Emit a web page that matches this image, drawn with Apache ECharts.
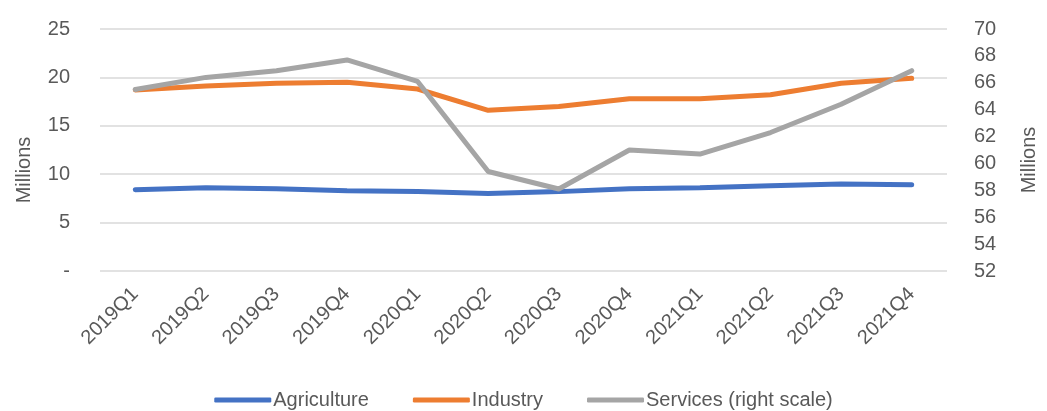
<!DOCTYPE html>
<html>
<head>
<meta charset="utf-8">
<script src="https://cdn.jsdelivr.net/npm/echarts@6/dist/echarts.min.js"></script>
<style>
  html, body { margin: 0; padding: 0; background: #fff; }
  #chart { width: 1047px; height: 411px; }
</style>
</head>
<body>
<div id="chart"></div>
<script>
var quarters = ['2019Q1', '2019Q2', '2019Q3', '2019Q4', '2020Q1', '2020Q2', '2020Q3', '2020Q4', '2021Q1', '2021Q2', '2021Q3', '2021Q4'];
var agriculture = [8.4, 8.6, 8.5, 8.3, 8.2, 8.0, 8.2, 8.5, 8.6, 8.8, 9.0, 8.9];
var industry = [18.7, 19.1, 19.4, 19.5, 18.8, 16.6, 17.0, 17.8, 17.8, 18.2, 19.4, 19.9];
var services = [65.5, 66.4, 66.9, 67.7, 66.1, 59.4, 58.1, 61.0, 60.7, 62.3, 64.4, 66.9];

var textColor = '#595959';
var font = 'Liberation Sans';

var chart = echarts.init(document.getElementById('chart'));
chart.setOption({
  animation: false,
  textStyle: { fontFamily: font },
  grid: { left: 100, right: 94, top: 29, bottom: 140 },
  legend: {
    bottom: -4,
    left: 'center',
    itemWidth: 57,
    itemHeight: 5,
    itemGap: 44,
    icon: 'roundRect',
    textStyle: { fontSize: 20, color: textColor, fontFamily: font, padding: [0, 0, 0, -3] },
    data: ['Agriculture', 'Industry', 'Services (right scale)']
  },
  xAxis: {
    type: 'category',
    data: quarters,
    boundaryGap: true,
    axisLine: { show: false },
    axisTick: { show: false },
    axisLabel: { rotate: 45, fontSize: 20, color: textColor, margin: 20, interval: 0 }
  },
  yAxis: [{
    type: 'value',
    min: 0, max: 25, interval: 5,
    name: 'Millions',
    nameLocation: 'middle',
    nameGap: 66,
    nameRotate: 90,
    nameTextStyle: { fontSize: 20, color: textColor, padding: [0, 0, 0, -40] },
    axisLabel: {
      fontSize: 20, color: textColor, margin: 30,
      formatter: function (v) { return v === 0 ? '-' : v; }
    },
    splitLine: { lineStyle: { color: '#d9d9d9', width: 1.5 } }
  }, {
    type: 'value',
    min: 52, max: 70, interval: 2,
    name: 'Millions',
    nameLocation: 'middle',
    nameGap: 72,
    nameRotate: 90,
    nameTextStyle: { fontSize: 20, color: textColor, padding: [0, 0, 0, -20] },
    axisLabel: { fontSize: 20, color: textColor, margin: 27 },
    splitLine: { show: false }
  }],
  series: [{
    name: 'Agriculture',
    type: 'line',
    data: agriculture,
    symbol: 'none',
    lineStyle: { width: 5, color: '#4472c4', cap: 'round' },
    itemStyle: { color: '#4472c4' }
  }, {
    name: 'Industry',
    type: 'line',
    data: industry,
    symbol: 'none',
    lineStyle: { width: 5, color: '#ed7d31', cap: 'round' },
    itemStyle: { color: '#ed7d31' }
  }, {
    name: 'Services (right scale)',
    type: 'line',
    yAxisIndex: 1,
    data: services,
    symbol: 'none',
    lineStyle: { width: 5, color: '#a5a5a5', cap: 'round' },
    itemStyle: { color: '#a5a5a5' }
  }]
});
</script>
</body>
</html>
